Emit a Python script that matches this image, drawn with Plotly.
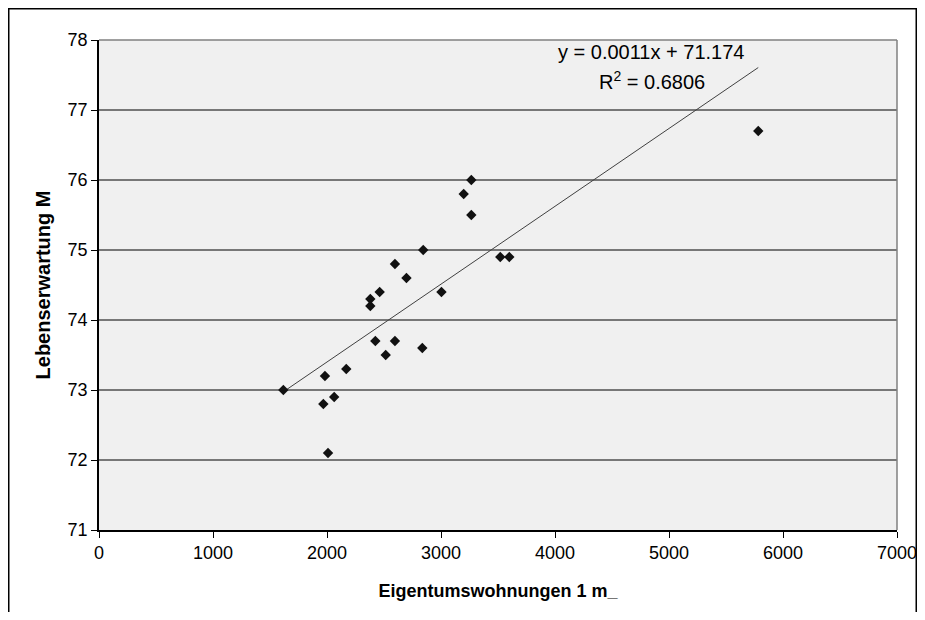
import numpy as np
import plotly.graph_objects as go

# Data
wohnungen = [1617, 1982, 1968, 2063, 2009, 2169, 2380, 2380, 2462, 2424, 2596, 2515,
             2596, 2697, 2844, 2836, 3004, 3199, 3266, 3266, 3520, 3599, 5783]
lebenserwartung = [73.0, 73.2, 72.8, 72.9, 72.1, 73.3, 74.3, 74.2, 74.4, 73.7, 73.7, 73.5,
                   74.8, 74.6, 75.0, 73.6, 74.4, 75.8, 76.0, 75.5, 74.9, 74.9, 76.7]
x_ticks = [0, 1000, 2000, 3000, 4000, 5000, 6000, 7000]
y_ticks = [71, 72, 73, 74, 75, 76, 77, 78]
eq_text = "y = 0.0011x + 71.174"
r2_text = "R<sup>2</sup> = 0.6806"

FONT = "Liberation Sans, Arial, sans-serif"

slope, intercept = np.polyfit(wohnungen, lebenserwartung, 1)
x_line = [min(wohnungen), max(wohnungen)]
y_line = [slope * v + intercept for v in x_line]

fig = go.Figure()
fig.add_trace(go.Scatter(x=x_line, y=y_line, mode="lines",
                         line=dict(color="#404040", width=1), hoverinfo="skip"))
fig.add_trace(go.Scatter(x=wohnungen, y=lebenserwartung, mode="markers",
                         marker=dict(symbol="diamond", size=8, color="#111111")))

# page body has an 8px margin; keep the figure inside the 925x620 window
OFF = 8
W, H = 925 - 2 * OFF, 620 - 2 * OFF
ml, mt = 99 - OFF, 40 - OFF
mr = W - (897 - OFF)
mb = H - (530 - OFF)
pw, ph = W - ml - mr, H - mt - mb

def px_x(page_x):
    return (page_x - OFF - ml) / pw

def px_y(page_y):
    return (H - mb - (page_y - OFF)) / ph

fig.update_layout(
    width=W, height=H, autosize=False,
    margin=dict(l=ml, r=mr, t=mt, b=mb, autoexpand=False),
    paper_bgcolor="white",
    plot_bgcolor="#f0f0f0",
    showlegend=False,
    font=dict(family=FONT, size=18, color="black"),
    xaxis=dict(range=[0, 7000], tickvals=x_ticks, ticktext=[str(v) for v in x_ticks],
               showgrid=False, zeroline=False, showline=True, linecolor="black", linewidth=1.5,
               ticks="outside", ticklen=6, tickcolor="black", ticklabeloverflow="allow",
               automargin=False,
               title=dict(text="<b>Eigentumswohnungen 1 m_</b>", font=dict(size=18), standoff=22)),
    yaxis=dict(range=[71, 78], tickvals=y_ticks, ticktext=[str(v) for v in y_ticks],
               showgrid=True, gridcolor="#777777", gridwidth=1.5, zeroline=False,
               showline=True, linecolor="black", linewidth=1.5,
               ticks="outside", ticklen=6, tickcolor="black", ticklabeloverflow="allow",
               automargin=False,
               title=dict(text="<b>Lebenserwartung M</b>", font=dict(size=20), standoff=12)),
    annotations=[
        dict(text=eq_text, xref="paper", yref="paper", x=px_x(651), y=px_y(52),
             showarrow=False, font=dict(size=20), xanchor="center", yanchor="middle"),
        dict(text=r2_text, xref="paper", yref="paper", x=px_x(652), y=px_y(80),
             showarrow=False, font=dict(size=20), xanchor="center", yanchor="middle"),
    ],
    shapes=[
        # plot area top/right border
        dict(type="line", xref="paper", yref="paper", x0=0, x1=1, y0=1, y1=1,
             line=dict(color="#808080", width=1.5)),
        dict(type="line", xref="paper", yref="paper", x0=1, x1=1, y0=0, y1=1,
             line=dict(color="#808080", width=1.5)),
        # outer chart frame
        dict(type="rect", xref="paper", yref="paper",
             x0=px_x(8.75), x1=px_x(916.25), y0=px_y(660), y1=px_y(8.75),
             line=dict(color="black", width=1.5), fillcolor="rgba(0,0,0,0)", layer="below"),
    ],
)

fig.write_html("out.html", config={"displayModeBar": False, "responsive": False})
